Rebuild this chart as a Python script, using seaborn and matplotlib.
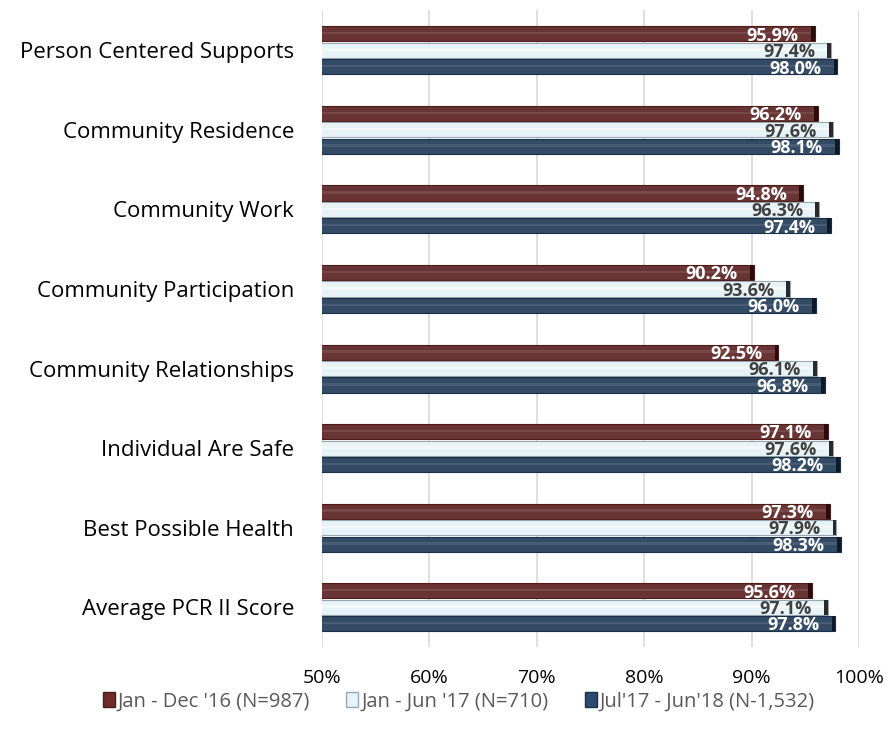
import numpy as np
import pandas as pd
import matplotlib
matplotlib.use("Agg")
import matplotlib.pyplot as plt
from matplotlib.patches import Rectangle, Patch
import seaborn as sns

categories = [
    "Person Centered Supports",
    "Community Residence",
    "Community Work",
    "Community Participation",
    "Community Relationships",
    "Individual Are Safe",
    "Best Possible Health",
    "Average PCR II Score",
]
periods = [
    "Jan - Dec '16 (N=987)",
    "Jan - Jun '17 (N=710)",
    "Jul'17 - Jun'18 (N-1,532)",
]
jan_dec_16 = [95.9, 96.2, 94.8, 90.2, 92.5, 97.1, 97.3, 95.6]
jan_jun_17 = [97.4, 97.6, 96.3, 93.6, 96.1, 97.6, 97.9, 97.1]
jul17_jun18 = [98.0, 98.1, 97.4, 96.0, 96.8, 98.2, 98.3, 97.8]
x_ticks = [50, 60, 70, 80, 90, 100]

fills = ["#722B2B", "#E4F4FA", "#2C4A6E"]
edges = ["#4E1A1A", "#9AA7AE", "#1B2F48"]
caps = ["#2A0C0C", "#2A2A2A", "#0E1A2A"]
label_colors = ["white", "#404040", "white"]

df = pd.DataFrame({
    "category": categories * 3,
    "period": np.repeat(periods, len(categories)),
    "score": jan_dec_16 + jan_jun_17 + jul17_jun18,
})

sns.set_theme(style="white")
plt.rcParams["font.family"] = ["Open Sans", "DejaVu Sans"]

fig = plt.figure(figsize=(8.89, 7.43), dpi=100)
ax = fig.add_axes([0.3622, 0.1292, 0.604, 0.8567])

sns.barplot(
    data=df, y="category", x="score", hue="period",
    order=categories, hue_order=periods, orient="h",
    palette=fills, width=0.62, gap=0.08, legend=False, ax=ax,
)

ax.set_xlim(50, 100)
ax.set_ylim(len(categories) - 0.5, -0.5)

# style each bar and add a darker cap at its end plus a highlight stripe
for i, cont in enumerate(ax.containers):
    for bar, val in zip(cont.patches, cont.datavalues):
        bar.set_edgecolor(edges[i])
        bar.set_linewidth(0.8)
        y, h = bar.get_y(), bar.get_height()
        ax.add_patch(Rectangle((val - 0.35, y), 0.35, h,
                               facecolor=caps[i], edgecolor="none", zorder=3))
        ax.add_patch(Rectangle((50, y + h * 0.38), val - 50.35, h * 0.16,
                               facecolor="white", alpha=0.10 if i != 1 else 0.5,
                               edgecolor="none", zorder=3))
        ax.text(val - 1.5, y + h * 0.62, f"{val:.1f}%", ha="right", va="center",
                color=label_colors[i], fontsize=13, fontweight="bold", zorder=4)

ax.set_xticks(x_ticks)
ax.set_xticklabels([f"{t}%" for t in x_ticks], fontsize=14, color="black")
ax.tick_params(axis="x", length=0, pad=16)
ax.tick_params(axis="y", length=0, pad=20)
for lbl in ax.get_yticklabels():
    lbl.set_fontsize(16)
    lbl.set_color("black")
ax.set_xlabel("")
ax.set_ylabel("")
ax.grid(axis="x", color="#D9D9D9", linewidth=1.2)
ax.set_axisbelow(True)
for s in ax.spines.values():
    s.set_visible(False)

handles = [Patch(facecolor=fills[i], edgecolor=edges[i], linewidth=1) for i in range(3)]
fig.legend(handles, periods, loc="center", bbox_to_anchor=(0.516, 0.056), ncol=3,
           frameon=False, fontsize=14.5, handlelength=0.6, handleheight=0.8,
           handletextpad=0.15, columnspacing=1.8, labelcolor="#595959")

fig.savefig("out.png", dpi=100)
